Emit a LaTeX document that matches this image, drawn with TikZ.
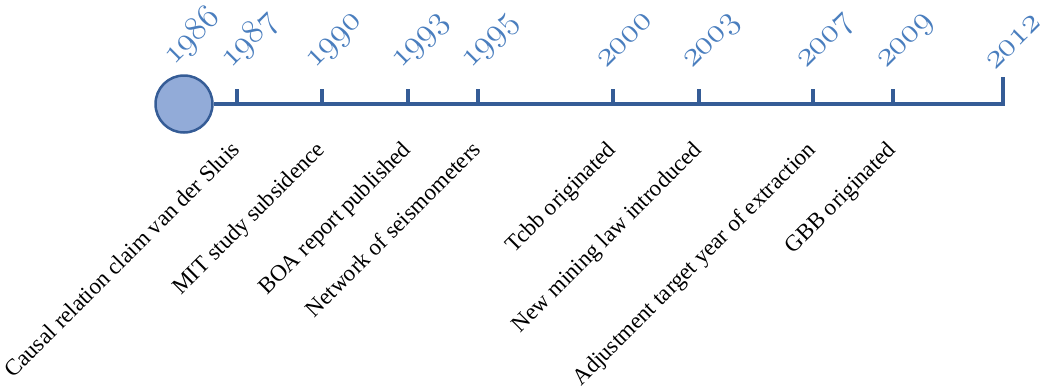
\documentclass[tikz,border=0pt]{standalone}
\usepackage{fontspec}
\setmainfont{Liberation Serif}
\DeclareFontFamily{OML}{yrcm}{\skewchar\font=127 }
\DeclareFontShape{OML}{yrcm}{m}{it}{<->cmmi12}{}
\definecolor{lineblue}{HTML}{355C96}
\definecolor{fillblue}{HTML}{92ABD8}
\definecolor{yearblue}{HTML}{4A7EBE}
\newcommand{\yrfont}{\fontsize{34}{37}\usefont{OML}{yrcm}{m}{it}}
\tikzset{
  axis/.style={draw=lineblue, line width=4.5pt},
  tickmark/.style={draw=lineblue, line width=3.5pt},
  yearlabel/.style={rotate=45, anchor=base west, inner sep=0pt, text=yearblue, font=\yrfont},
  eventlabel/.style={rotate=45, anchor=base east, inner sep=0pt, text=black, font=\fontsize{23}{26}\selectfont},
  startdot/.style={circle, draw=lineblue, fill=fillblue, line width=2.5pt, minimum size=57pt, inner sep=0pt}
}
\begin{document}
\begin{tikzpicture}[x=1pt, y=-1pt]
\useasboundingbox (0,0) rectangle (1051,391);
% start circle
\node[startdot] (c86) at (184,104) {};
% tick coordinates on the axis
\coordinate (a87) at (237,104); \coordinate (t87) at (237,89);
\coordinate (a90) at (322,104); \coordinate (t90) at (322,89);
\coordinate (a93) at (408,104); \coordinate (t93) at (408,89);
\coordinate (a95) at (478,104); \coordinate (t95) at (478,89);
\coordinate (a00) at (613,104); \coordinate (t00) at (613,89);
\coordinate (a03) at (699,104); \coordinate (t03) at (699,89);
\coordinate (a07) at (813,104); \coordinate (t07) at (813,89);
\coordinate (a09) at (893,104); \coordinate (t09) at (893,89);
\coordinate (a12) at (1003,104); \coordinate (t12) at (1003,77);
% axis
\draw[axis, line join=miter] (c86.east) -- (a12) -- (t12);
\foreach \y in {87,90,93,95,00,03,07,09}{
  \draw[tickmark] (a\y) -- (t\y);
}
% years
\node[yearlabel] (y86) at (174,66) {1986};
\node[yearlabel] (y87) at (231,69) {1987};
\node[yearlabel] (y90) at (315,69) {1990};
\node[yearlabel] (y93) at (401,69) {1993};
\node[yearlabel] (y95) at (471,69) {1995};
\node[yearlabel] (y00) at (606,69) {2000};
\node[yearlabel] (y03) at (692,69) {2003};
\node[yearlabel] (y07) at (806,69) {2007};
\node[yearlabel] (y09) at (886,69) {2009};
\node[yearlabel] (y12) at (995,71) {2012};
% events
\node[eventlabel] (e87) at (241,151) {Causal relation claim van der Sluis};
\node[eventlabel] (e90) at (326,151) {MIT study subsidence};
\node[eventlabel] (e93) at (412,151) {BOA report published};
\node[eventlabel] (e95) at (482,151) {Network of seismometers};
\node[eventlabel] (e00) at (617,151) {Tcbb originated};
\node[eventlabel] (e03) at (703,151) {New mining law introduced};
\node[eventlabel] (e07) at (817,151) {Adjustment target year of extraction};
\node[eventlabel] (e09) at (897,151) {GBB originated};
\end{tikzpicture}
\end{document}
